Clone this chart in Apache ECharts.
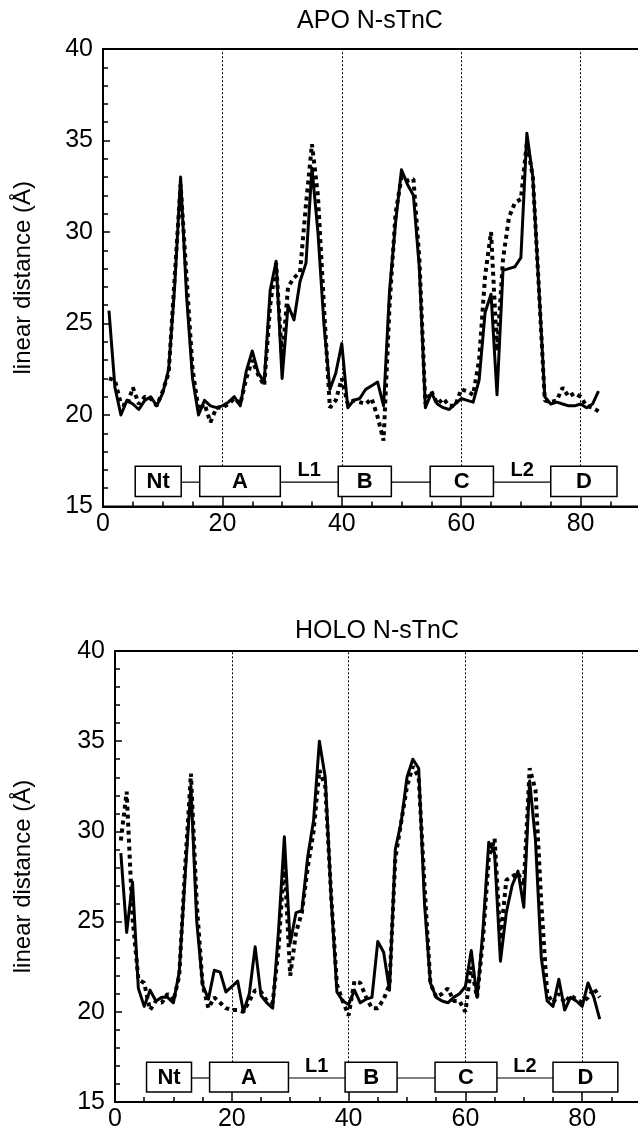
<!DOCTYPE html>
<html><head><meta charset="utf-8">
<script src="https://cdn.jsdelivr.net/npm/echarts@6/dist/echarts.min.js"></script>
<style>html,body{margin:0;padding:0;background:#fff}#c{width:638px;height:1126px}</style>
</head><body><div id="c"></div>
<script>
const residues = [1,2,3,4,5,6,7,8,9,10,11,12,13,14,15,16,17,18,19,20,21,22,23,24,25,26,27,28,29,30,31,32,33,34,35,36,37,38,39,40,41,42,43,44,45,46,47,48,49,50,51,52,53,54,55,56,57,58,59,60,61,62,63,64,65,66,67,68,69,70,71,72,73,74,75,76,77,78,79,80,81,82,83];
const apoSolid = [25.7,21.5,20.0,20.8,20.6,20.3,20.8,21.0,20.5,21.2,22.5,27.0,33.0,26.5,22.0,20.0,20.8,20.5,20.4,20.5,20.7,21.0,20.5,22.4,23.5,22.3,21.8,26.8,28.4,22.0,26.0,25.2,27.3,28.3,33.5,30.0,25.0,21.4,22.3,23.9,20.4,20.8,20.9,21.4,21.6,21.8,20.5,26.8,30.5,33.4,32.6,32.0,28.0,20.4,21.2,20.6,20.4,20.3,20.6,20.9,20.8,20.7,21.9,25.6,26.6,21.1,27.9,28.0,28.1,28.6,35.4,33.0,27.0,21.0,20.6,20.7,20.6,20.5,20.5,20.6,20.4,20.6,21.3];
const apoDotted = [22.0,21.9,20.6,20.5,21.5,20.6,21.0,20.9,20.5,21.3,22.3,27.5,32.6,27.5,22.5,20.3,20.6,19.6,20.4,20.4,20.6,20.9,20.6,22.0,23.0,22.2,21.6,26.0,28.3,23.0,27.0,27.5,27.8,31.5,34.8,32.0,26.0,20.4,20.8,22.0,20.6,20.8,20.7,20.6,20.9,19.9,18.6,26.0,31.0,33.0,32.8,32.9,28.5,20.6,21.3,20.6,20.9,20.5,20.5,21.4,21.3,21.1,23.0,27.6,30.0,23.5,28.5,30.8,31.6,31.8,34.9,33.0,27.0,20.8,20.7,20.8,21.5,21.0,21.2,21.0,20.5,20.4,20.2];
const holoSolid = [28.8,24.4,27.2,21.3,20.3,21.2,20.6,20.8,20.8,20.5,22.2,27.5,32.5,25.0,21.5,20.7,22.3,22.2,21.1,21.4,21.7,20.0,21.0,23.6,20.9,20.5,20.2,24.5,29.7,23.8,25.5,25.6,28.6,30.6,35.0,33.0,26.4,21.1,20.6,20.4,21.2,20.5,20.7,20.8,23.9,23.3,21.2,29.0,30.5,33.0,34.0,33.5,26.0,21.6,20.8,20.6,20.5,20.8,21.0,21.4,23.4,20.8,24.5,29.4,28.8,22.8,25.5,27.0,27.8,25.8,32.8,29.5,23.0,20.6,20.3,21.8,20.1,20.8,20.6,20.3,21.6,20.8,19.6];
const holoDotted = [29.5,32.2,25.2,21.8,21.6,20.1,20.6,20.5,21.0,20.6,22.0,28.0,33.2,26.0,21.5,20.2,20.8,20.5,20.2,20.1,20.1,20.0,20.6,21.2,21.1,20.6,20.5,23.5,28.5,22.0,24.4,25.5,28.0,30.0,33.4,32.5,26.5,21.5,20.6,19.8,21.7,21.6,20.8,20.2,20.2,20.7,21.5,28.5,30.5,32.5,33.6,33.0,27.0,21.6,20.8,21.0,21.3,20.6,20.6,20.0,22.5,20.8,24.0,28.5,29.6,24.0,27.3,27.5,27.7,27.0,33.5,32.3,26.0,21.0,20.5,21.0,20.5,20.9,20.7,20.5,20.8,21.3,20.8];

const panelTitles = ['APO N-sTnC', 'HOLO N-sTnC'];
const yAxisTitle = 'linear distance (Å)';
const xMin = 0, xMax = 100, xStep = 20;
const yMin = 15, yMax = 40, yStep = 5;
const domainNames = ['Nt', 'A', 'B', 'C', 'D'];
const domainStart = [5.4, 16.2, 39.4, 54.8, 75.0];
const domainEnd = [13.1, 29.7, 48.3, 65.4, 86.1];
const loopNames = ['', 'L1', '', 'L2'];   // connector after each domain
const dividers = [20, 40, 60, 80];

const FONT = '"Liberation Sans", Arial, Helvetica, sans-serif';
const BOX_TOP = 17.2, BOX_BOT = 15.55, LINK_Y = 16.33;

const grids = [
  {left: 103, top: 49, width: 597, height: 457.5},
  {left: 115, top: 651, width: 584, height: 451}
];
const nameGaps = [68, 80];

function pairs(ys) { return residues.map((r, i) => [r, ys[i]]); }

const chart = echarts.init(document.getElementById('c'), null, {renderer: 'canvas'});
const option = {
  animation: false,
  backgroundColor: '#fff',
  grid: grids.map(g => Object.assign({show: true, borderColor: '#000', borderWidth: 2, backgroundColor: 'transparent', containLabel: false, outerBoundsMode: 'none'}, g)),
  xAxis: grids.map((g, k) => ({
    type: 'value', gridIndex: k, min: xMin, max: xMax, interval: xStep,
    axisLine: {show: true, lineStyle: {color: '#000', width: 2}},
    axisTick: {show: true, inside: true, length: 10, lineStyle: {color: '#000', width: 1.5}},
    minorTick: {show: true, splitNumber: 4, length: 5, lineStyle: {color: '#000', width: 1.5}},
    axisLabel: {color: '#000', fontSize: 25, fontFamily: FONT, margin: 5},
    splitLine: {show: false}, minorSplitLine: {show: false}
  })),
  yAxis: grids.map((g, k) => ({
    type: 'value', gridIndex: k, min: yMin, max: yMax, interval: yStep,
    name: yAxisTitle, nameLocation: 'middle', nameGap: nameGaps[k], nameRotate: 90,
    nameTextStyle: {color: '#000', fontSize: 24, fontFamily: FONT},
    axisLine: {show: true, lineStyle: {color: '#000', width: 2}},
    axisTick: {show: true, inside: true, length: 7, lineStyle: {color: '#000', width: 1.5}},
    minorTick: {show: true, splitNumber: 5, length: 5, lineStyle: {color: '#000', width: 1.5}},
    axisLabel: {color: '#000', fontSize: 25, fontFamily: FONT, margin: 10},
    splitLine: {show: false}, minorSplitLine: {show: false}
  })),
  graphic: [
    {type: 'text', x: 370, y: 21, style: {text: panelTitles[0], font: '25px ' + FONT, fill: '#000', textAlign: 'center', textVerticalAlign: 'middle'}},
    {type: 'text', x: 377, y: 631, style: {text: panelTitles[1], font: '25px ' + FONT, fill: '#000', textAlign: 'center', textVerticalAlign: 'middle'}}
  ],
  series: []
};

const datasets = [[apoSolid, apoDotted], [holoSolid, holoDotted]];
datasets.forEach((pair, k) => {
  option.series.push({
    type: 'line', xAxisIndex: k, yAxisIndex: k, data: pairs(pair[1]), showSymbol: false, z: 3,
    lineStyle: {color: '#000', width: 4, type: [4, 4], cap: 'butt'}
  });
  option.series.push({
    type: 'line', xAxisIndex: k, yAxisIndex: k, data: pairs(pair[0]), showSymbol: false, z: 4,
    lineStyle: {color: '#000', width: 3, join: 'round'},
    markLine: {
      silent: true, symbol: ['none', 'none'], label: {show: false},
      lineStyle: {color: '#000', width: 1, type: [2, 2]},
      data: dividers.map(d => [{coord: [d, BOX_TOP]}, {coord: [d, yMax]}])
    }
  });
  option.series.push({
    type: 'custom', xAxisIndex: k, yAxisIndex: k, z: 5, silent: true,
    data: domainEnd.slice(0, -1).map((e, i) => [e, domainStart[i + 1]]),
    renderItem: (params, api) => {
      const a = api.coord([api.value(0), LINK_Y]);
      const b = api.coord([api.value(1), LINK_Y]);
      const children = [{type: 'line', shape: {x1: a[0], y1: a[1], x2: b[0], y2: b[1]}, style: {stroke: '#000', lineWidth: 1.2}}];
      const nm = loopNames[params.dataIndex];
      if (nm) children.push({type: 'text', style: {text: nm, x: (a[0] + b[0]) / 2, y: a[1] - 2, textAlign: 'center', textVerticalAlign: 'bottom', font: 'bold 20px ' + FONT, fill: '#000'}});
      return {type: 'group', children};
    }
  });
  option.series.push({
    type: 'custom', xAxisIndex: k, yAxisIndex: k, z: 6, silent: true,
    data: domainStart.map((s, i) => [s, domainEnd[i]]),
    renderItem: (params, api) => {
      const a = api.coord([api.value(0), BOX_TOP]);
      const b = api.coord([api.value(1), BOX_BOT]);
      return {type: 'group', children: [
        {type: 'rect', shape: {x: a[0], y: a[1], width: b[0] - a[0], height: b[1] - a[1]}, style: {fill: '#fff', stroke: '#000', lineWidth: 1.5}},
        {type: 'text', style: {text: domainNames[params.dataIndex], x: (a[0] + b[0]) / 2, y: (a[1] + b[1]) / 2 + 1, textAlign: 'center', textVerticalAlign: 'middle', font: 'bold 22px ' + FONT, fill: '#000'}}
      ]};
    }
  });
});

chart.setOption(option);
</script>
</body></html>
